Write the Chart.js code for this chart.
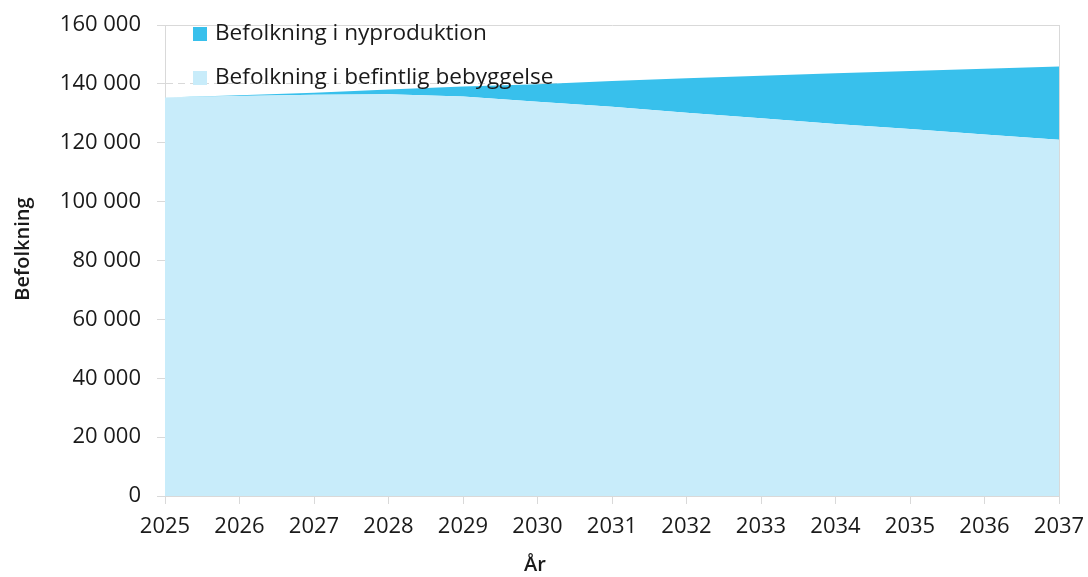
<!DOCTYPE html>
<html>
<head>
<meta charset="utf-8">
<script src="https://cdn.jsdelivr.net/npm/chart.js@4"></script>
<style>
  html, body { margin: 0; padding: 0; background: #fff; }
  #wrap { width: 1088px; height: 577px; }
</style>
</head>
<body>
<div id="wrap"><canvas id="area-befolkning" width="1088" height="577"></canvas></div>
<script>
  // data
  const years = ['2025', '2026', '2027', '2028', '2029', '2030', '2031', '2032', '2033', '2034', '2035', '2036', '2037']
  const befintlig = [135400, 135900, 136300, 136500, 135700, 133900, 132200, 130200, 128300, 126400, 124700, 122800, 121000]
  const nyproduktion = [0, 200, 700, 1600, 3400, 6000, 8800, 11700, 14500, 17200, 19700, 22300, 24900]
  const yTicks = [0, 20000, 40000, 60000, 80000, 100000, 120000, 140000, 160000]
  const xTitle = 'År'
  const yTitle = 'Befolkning'

  const gridGrey = '#d9d9d9'
  const textColor = '#1a1a1a'
  const fontFamily = '"Open Sans", "DejaVu Sans", sans-serif'

  const fmt = (v) => String(v).replace(/\B(?=(\d{3})+(?!\d))/g, ' ')

  // legend inside the plot area (top series first) + axis titles placed like the original
  const insideLegend = {
    id: 'insideLegend',
    afterDraw(chart) {
      const ctx = chart.ctx
      const ds = chart.data.datasets.slice().reverse()
      ctx.save()
      ctx.font = '22.6px ' + fontFamily
      ctx.textBaseline = 'middle'
      ds.forEach((d, i) => {
        const y = 34 + i * 44
        ctx.fillStyle = d.backgroundColor
        ctx.fillRect(193, y - 7, 14, 14)
        ctx.fillStyle = textColor
        ctx.fillText(d.label, 215, y)
      })

      ctx.font = '600 20px ' + fontFamily
      ctx.textAlign = 'center'
      ctx.fillText(xTitle, 535, 565)
      ctx.translate(23, 249)
      ctx.rotate(-Math.PI / 2)
      ctx.fillText(yTitle, 0, 0)
      ctx.restore()
    },
  }

  const areaConfig = {
    type: 'line',
    data: {
      labels: years,
      datasets: [
        {
          label: 'Befolkning i befintlig bebyggelse',
          backgroundColor: '#c8ecfa',
          borderWidth: 0,
          pointRadius: 0,
          fill: 'origin',
          data: befintlig,
        },
        {
          label: 'Befolkning i nyproduktion',
          backgroundColor: '#38c0ec',
          borderWidth: 0,
          pointRadius: 0,
          fill: '-1',
          data: nyproduktion,
        },
      ],
    },
    options: {
      responsive: false,
      animation: false,
      layout: {
        padding: { top: 25, right: 29, bottom: 0, left: 0 },
      },
      plugins: {
        legend: { display: false },
        tooltip: { enabled: false },
      },
      scales: {
        x: {
          offset: false,
          afterFit: (s) => {
            s.height = 81
            s.paddingLeft = 0
            s.paddingRight = 0
          },
          grid: { drawOnChartArea: false, drawTicks: true, tickLength: 8, tickColor: gridGrey },
          border: { color: gridGrey, width: 1 },
          ticks: { color: textColor, font: { family: fontFamily, size: 22 }, padding: 10, maxRotation: 0 },
        },
        y: {
          stacked: true,
          min: 0,
          max: 160000,
          afterFit: (s) => {
            s.width = 165
            s.paddingTop = 0
            s.paddingBottom = 0
          },
          afterBuildTicks: (s) => { s.ticks = yTicks.map((v) => ({ value: v })) },
          grid: { color: gridGrey, lineWidth: 1, tickLength: 8, tickColor: gridGrey },
          border: {
            color: gridGrey,
            width: 1,
            dash: (c) => (c.tick && c.tick.value === 160000 ? [] : [7, 5]),
          },
          ticks: {
            color: textColor,
            font: { family: fontFamily, size: 22 },
            padding: 16,
            callback: (v) => fmt(v),
          },
        },
        yRight: {
          position: 'right',
          afterFit: (s) => { s.width = 0 },
          grid: { display: false },
          ticks: { display: false },
          border: { color: gridGrey, width: 1 },
        },
      },
    },
    plugins: [insideLegend],
  }

  const areaBefolkning = document.getElementById('area-befolkning')
  window.myArea = new Chart(areaBefolkning, areaConfig)
</script>
</body>
</html>
